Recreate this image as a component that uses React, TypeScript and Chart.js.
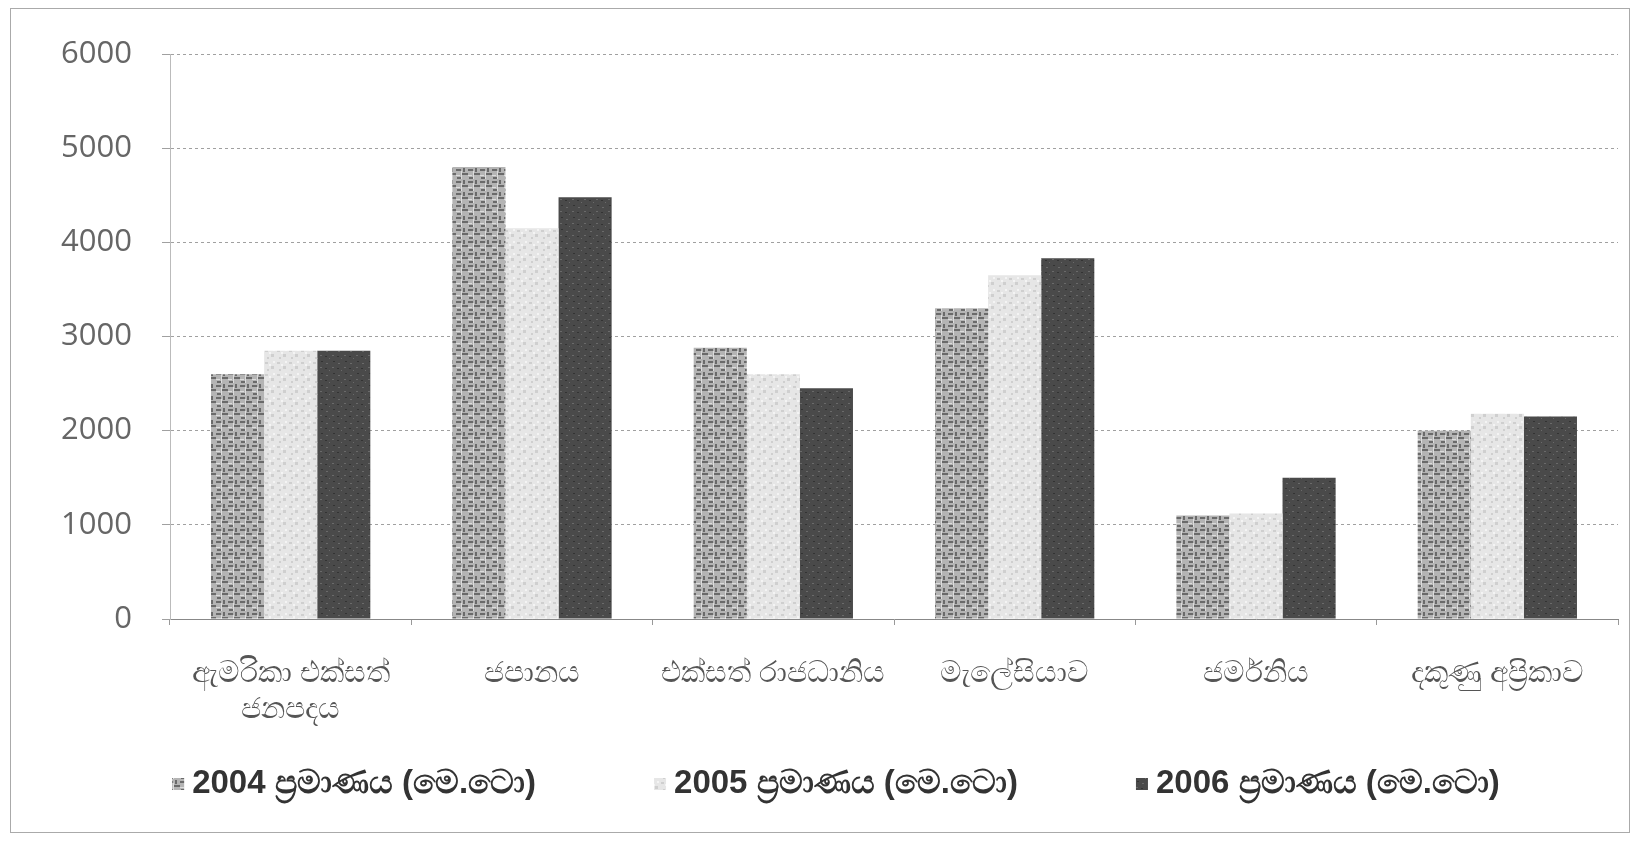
import React, { useEffect, useRef } from "react";
import { Chart, registerables } from "chart.js";

Chart.register(...registerables);

const categories: (string | string[])[] = [
  ["ඇමරිකා එක්සත්", "ජනපදය"],
  "ජපානය",
  "එක්සත් රාජධානිය",
  "මැලේසියාව",
  "ජර්මනිය",
  "දකුණු අප්‍රිකාව",
];
const seriesLabels = [
  "2004 ප්‍රමාණය (මෙ.ටො)",
  "2005 ප්‍රමාණය (මෙ.ටො)",
  "2006 ප්‍රමාණය (මෙ.ටො)",
];
const values2004 = [2600, 4800, 2880, 3300, 1100, 2000];
const values2005 = [2850, 4150, 2600, 3650, 1120, 2180];
const values2006 = [2850, 4480, 2450, 3830, 1500, 2150];
const yTicks = [0, 1000, 2000, 3000, 4000, 5000, 6000];

function makePattern(kind: number): CanvasPattern | string {
  const c = document.createElement("canvas");
  const s = 12;
  c.width = s;
  c.height = s;
  const g = c.getContext("2d");
  if (!g) return "#999";
  if (kind === 0) {
    g.fillStyle = "#b4b4b4";
    g.fillRect(0, 0, s, s);
    g.fillStyle = "#6a6a6a";
    g.fillRect(0, 1, 5, 2);
    g.fillRect(6, 5, 6, 2);
    g.fillRect(1, 9, 4, 2);
    g.fillRect(7, 0, 2, 4);
    g.fillStyle = "#dcdcdc";
    g.fillRect(5, 3, 1, 8);
    g.fillRect(0, 7, 4, 1);
  } else if (kind === 1) {
    g.fillStyle = "#e6e6e6";
    g.fillRect(0, 0, s, s);
    g.fillStyle = "#cfcfcf";
    g.fillRect(1, 2, 3, 2);
    g.fillRect(7, 6, 3, 3);
    g.fillRect(3, 9, 2, 2);
    g.fillStyle = "#f4f4f4";
    g.fillRect(9, 1, 2, 2);
    g.fillRect(5, 4, 2, 2);
  } else {
    g.fillStyle = "#4a4a4a";
    g.fillRect(0, 0, s, s);
    g.fillStyle = "#6a6a6a";
    g.fillRect(2, 3, 2, 1);
    g.fillRect(8, 7, 2, 1);
    g.fillRect(5, 10, 1, 1);
    g.fillStyle = "#333333";
    g.fillRect(9, 1, 2, 1);
    g.fillRect(1, 8, 2, 1);
  }
  return g.createPattern(c, "repeat") || "#999";
}

const legendPlugin = {
  id: "bottomLegend",
  afterDraw(chart: any) {
    const ctx = chart.ctx as CanvasRenderingContext2D;
    const datasets = chart.data.datasets;
    const box = 12;
    const boxGap = 8;
    const gap = 118;
    const centerX = 836;
    const y = 784;
    ctx.save();
    ctx.font = "bold 33px 'Liberation Sans', sans-serif";
    ctx.textBaseline = "middle";
    ctx.textAlign = "left";
    const widths = datasets.map(
      (d: any) => box + boxGap + ctx.measureText(d.label).width
    );
    const total =
      widths.reduce((a: number, b: number) => a + b, 0) + gap * (datasets.length - 1);
    let x = centerX - total / 2;
    datasets.forEach((d: any, i: number) => {
      ctx.fillStyle = d.backgroundColor;
      ctx.fillRect(x, y - box / 2, box, box);
      ctx.fillStyle = "#333";
      ctx.fillText(d.label, x + box + boxGap, y);
      x += widths[i] + gap;
    });
    ctx.restore();
  },
};

export default function App() {
  const ref = useRef<HTMLCanvasElement | null>(null);
  useEffect(() => {
    document.body.style.margin = "0";
    if (!ref.current) return;
    const fills = [makePattern(0), makePattern(1), makePattern(2)];
    const chart = new Chart(ref.current, {
      type: "bar",
      data: {
        labels: categories,
        datasets: [values2004, values2005, values2006].map((v, i) => ({
          label: seriesLabels[i],
          data: v,
          backgroundColor: fills[i] as any,
          borderWidth: 0,
          barPercentage: 1,
          categoryPercentage: 0.66,
        })),
      },
      plugins: [legendPlugin],
      options: {
        animation: false,
        responsive: false,
        maintainAspectRatio: false,
        layout: { padding: { left: 50, right: 16, top: 54, bottom: 75 } },
        plugins: {
          tooltip: { enabled: false },
          legend: { display: false },
        },
        scales: {
          x: {
            offset: true,
            afterFit: (s: any) => {
              s.height = 148;
            },
            grid: {
              display: true,
              drawOnChartArea: false,
              offset: true,
              tickLength: 6,
              color: "#999",
            },
            border: { color: "#888", width: 1 },
            ticks: {
              padding: 30,
              color: "#555",
              font: { family: "'Noto Sans', sans-serif", size: 30, lineHeight: 1.2 },
              maxRotation: 0,
              autoSkip: false,
            },
          },
          y: {
            min: 0,
            max: 6000,
            afterBuildTicks: (s: any) => {
              s.ticks = yTicks.map((v) => ({ value: v }));
            },
            afterFit: (s: any) => {
              s.width = 120;
            },
            grid: {
              color: "#a0a0a0",
              lineWidth: 1,
              tickLength: 8,
            },
            border: { color: "#bbb", dash: [3, 3] },
            ticks: {
              padding: 30,
              color: "#666",
              font: { family: "'Open Sans', sans-serif", size: 31 },
              callback: (v: any) => String(v),
            },
          },
        },
      },
    });
    return () => chart.destroy();
  }, []);
  return (
    <div
      style={{
        position: "relative",
        width: 1634,
        height: 842,
        background: "#fff",
        overflow: "hidden",
      }}
    >
      <div
        style={{
          position: "absolute",
          left: 10,
          top: 8,
          width: 1620,
          height: 825,
          border: "1px solid #aaa",
          boxSizing: "border-box",
          pointerEvents: "none",
        }}
      />
      <canvas ref={ref} width={1634} height={842} style={{ display: "block" }} />
    </div>
  );
}
